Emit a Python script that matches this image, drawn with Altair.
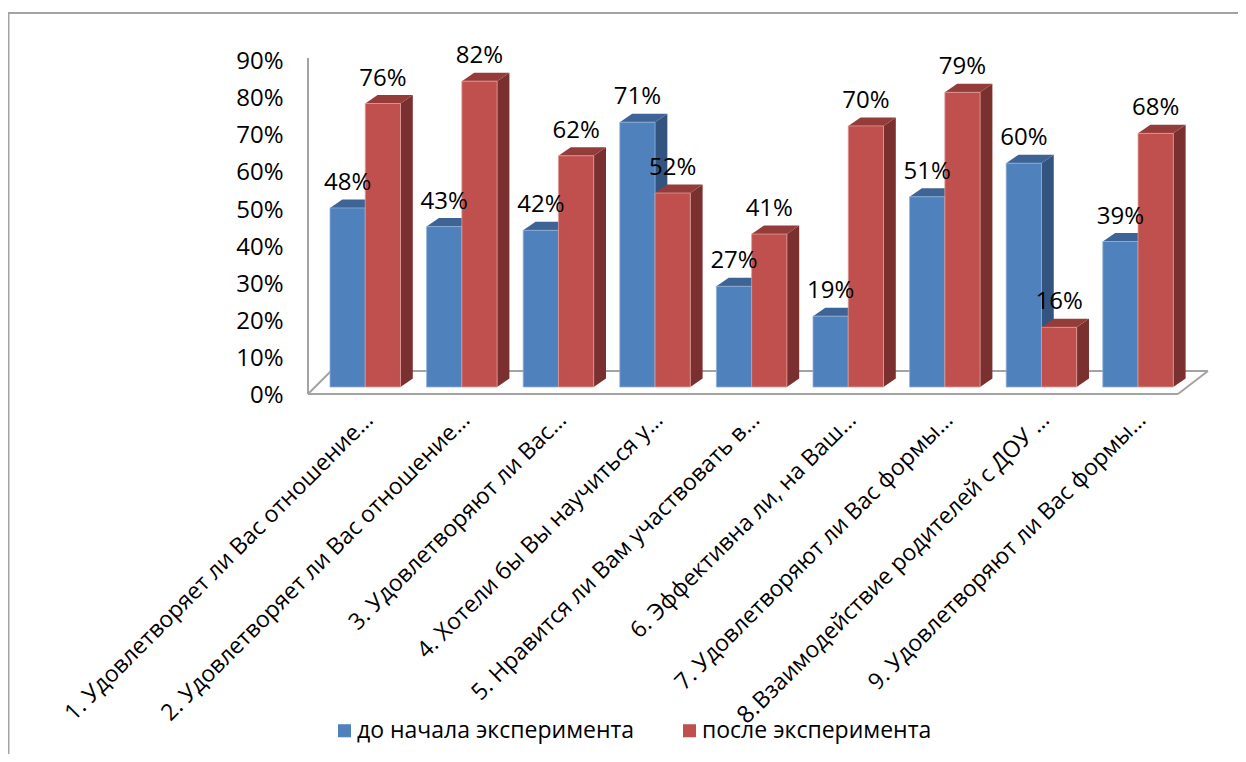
import json
import altair as alt
import pandas as pd

categories = [
    "1. Удовлетворяет ли Вас отношение…",
    "2. Удовлетворяет ли Вас отношение…",
    "3. Удовлетворяют ли Вас…",
    "4. Хотели бы Вы научиться у…",
    "5. Нравится ли Вам участвовать в…",
    "6. Эффективна ли, на Ваш…",
    "7. Удовлетворяют ли Вас формы…",
    "Взаимодействие родителей с ДОУ …",
    "9. Удовлетворяют ли Вас формы…",
]
series_names = ["до начала эксперимента", "после эксперимента"]
before = [48, 43, 42, 71, 27, 19, 51, 60, 39]
after = [76, 82, 62, 52, 41, 70, 79, 16, 68]
y_ticks = [0, 10, 20, 30, 40, 50, 60, 70, 80, 90]

FONT = "Open Sans"
LABEL_SIZE = 24
front_col = ["#4F81BD", "#C0504D"]
top_col = ["#3D6494", "#943C3A"]
side_col = ["#33547F", "#7A302F"]
halo_col = ["#8FAED6", "#DE9C9A"]
line_col = "#A3A3A3"

# layout (page pixels)
PL, PT, PR, PB = 300, 30, 1230, 400
pad = dict(left=PL - 8, top=PT - 8, right=1230 - (PR - 8), bottom=746 - (PB - 8))
STEP = 96.6
X0 = 330.0
K = 3.73
BASE = 387.0
x_dom = [(PL - X0) / STEP, (PR - X0) / STEP]
y_dom = [(BASE - PB) / K, (BASE - PT) / K]
AK, AB = 3.71, 395.5
y_axis_dom = [(AB - PB) / AK, (AB - PT) / AK]
BW = 35.25 / STEP
DX = 12.3 / STEP
DY = 8.5 / K
TICK_SHIFT = 39 / STEP

xs = alt.Scale(domain=x_dom, nice=False, zero=False)
ys = alt.Scale(domain=y_dom, nice=False, zero=False)
yas = alt.Scale(domain=y_axis_dom, nice=False, zero=False)

label_expr = json.dumps(categories, ensure_ascii=False) + "[floor(datum.value)]"
x_axis = alt.Axis(
    values=[i + TICK_SHIFT for i in range(9)],
    labelExpr=label_expr,
    title=None,
    grid=False,
    domain=False,
    ticks=False,
    labelAngle=-45,
    labelAlign="right",
    labelBaseline="middle",
    labelFont=FONT,
    labelFontSize=23,
    labelColor="#000000",
    labelLimit=0,
    labelOverlap=False,
    labelBound=False,
    labelFlush=False,
    labelPadding=16,
)


def px(x):
    return x - PL


def py(y):
    return y - PT


def rows(face, s, vals):
    out = []
    for i, v in enumerate(vals):
        xl = i + s * BW
        xr = xl + BW
        if face == "front":
            pts = [(xl, 0, v), (xr, 0, v)]
        elif face == "side":
            pts = [(xr, 0, v), (xr + DX, DY, v + DY)]
        else:
            pts = [(xl, v, v), (xl + DX, v, v + DY), (xr, v, v + DY), (xr + DX, v + DY, v + DY)]
        for p in pts:
            out.append(dict(g=i, x=p[0], y=p[1], y2=p[2], series=series_names[s]))
    return pd.DataFrame(out)


def area(face, s, vals):
    col = {"front": front_col, "side": side_col, "top": top_col}[face][s]
    props = dict(color=col, line=False)
    if face == "front":
        props.update(stroke=halo_col[s], strokeWidth=0.8)
    enc = dict(
        x=alt.X("x:Q", scale=xs, axis=x_axis),
        y=alt.Y("y:Q", scale=ys, axis=None),
        y2="y2:Q",
        detail="g:N",
    )
    if face == "front":
        enc["color"] = alt.Color(
            "series:N",
            scale=alt.Scale(domain=series_names, range=front_col),
            legend=alt.Legend(
                title=None,
                orient="none",
                legendX=338 - PL - 5,
                legendY=719 - PT,
                direction="horizontal",
                columns=2,
                symbolType="square",
                symbolSize=170,
                symbolStrokeWidth=0,
                labelFont=FONT,
                labelFontSize=23,
                labelOffset=1,
                labelColor="#000000",
                labelLimit=400,
                columnPadding=43,
                padding=0,
            ),
        )
    return alt.Chart(rows(face, s, vals)).mark_area(**props).encode(**enc)


def rule(x1, y1, x2, y2, w=2):
    return (
        alt.Chart(pd.DataFrame({"a": [0]}))
        .mark_rule(color=line_col, strokeWidth=w)
        .encode(x=alt.value(px(x1)), x2=alt.value(px(x2)), y=alt.value(py(y1)), y2=alt.value(py(y2)))
    )


tick_df = pd.DataFrame(
    {"v": y_ticks, "x": [i + TICK_SHIFT for i in range(9)] + [TICK_SHIFT]}
)
axis_layer = (
    alt.Chart(tick_df)
    .mark_point(opacity=0)
    .encode(
        x=alt.X("x:Q", scale=xs, axis=x_axis),
        y=alt.Y(
            "v:Q",
            scale=yas,
            axis=alt.Axis(
                values=y_ticks,
                labelExpr="datum.value + '%'",
                title=None,
                grid=False,
                domain=False,
                ticks=False,
                labelFont=FONT,
                labelFontSize=LABEL_SIZE,
                labelColor="#000000",
                labelPadding=17,
            ),
        ),
    )
)

frame = [
    rule(8, 13, 1238, 13),
    rule(8, 13, 8, 754, 3),
    rule(308, 58, 308, 394),
    rule(308, 394, 1178, 394),
    rule(331, 371, 1208, 371),
    rule(308, 394, 331, 371),
    rule(1178, 394, 1208, 371),
]

bars = []
for s, vals in enumerate([before, after]):
    for face in ["side", "top", "front"]:
        bars.append(area(face, s, vals))

lab_rows = []
for s, vals in enumerate([before, after]):
    for i, v in enumerate(vals):
        lab_rows.append(dict(x=i + s * BW + BW / 2, y=v, t=f"{v}%"))
labels = (
    alt.Chart(pd.DataFrame(lab_rows))
    .mark_text(font=FONT, fontSize=LABEL_SIZE, color="#000000", dy=-25, baseline="middle", align="center")
    .encode(x=alt.X("x:Q", scale=xs, axis=x_axis), y=alt.Y("y:Q", scale=ys, axis=None), text="t:N")
)
eight = (
    alt.Chart(pd.DataFrame({"t": ["8."]}))
    .mark_text(font=FONT, fontSize=LABEL_SIZE, color="#000000", angle=315, align="center", baseline="middle")
    .encode(x=alt.value(px(749)), y=alt.value(py(713)), text="t:N")
)

chart = (
    alt.layer(axis_layer, *frame, *bars, labels, eight)
    .resolve_scale(y="independent")
    .properties(
        width=PR - PL,
        height=PB - PT,
        padding=pad,
        autosize=alt.AutoSizeParams(type="none"),
        background="#ffffff",
    )
    .configure_view(stroke=None)
)
chart.save("out.html", embed_options={"renderer": "svg", "actions": False})
